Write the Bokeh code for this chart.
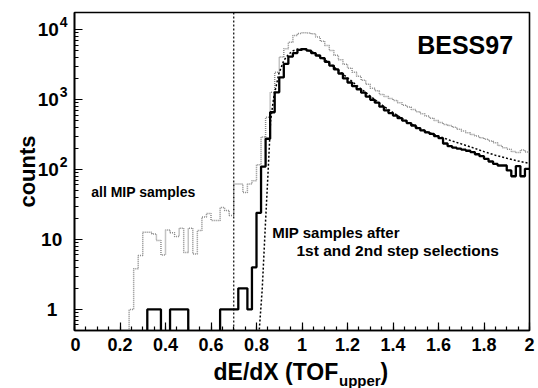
import numpy as np
from bokeh.plotting import figure
from bokeh.models import Label, Span, FixedTicker
from bokeh.layouts import row, column
from bokeh.core.properties import value
from bokeh.embed import file_html
from bokeh.resources import INLINE

# ---------------- data ----------------
bin_lo = 0.0
bin_width = 0.02

# all MIP samples (grey dotted histogram), bins of 0.02 starting at 0.00
all_mip = [
    0, 0, 0, 0, 0, 0, 0, 0, 0, 0, 0, 0,
    1, 3.8, 5.9, 12.7, 12.7, 12, 9.7, 6, 13.7, 12.5,
    11, 14.5, 6.5, 14.5, 6.2, 13.4, 21, 23.5, 18.7, 18.7,
    28.5, 26, 22, 62, 62, 47, 62, 69, 117, 290,
    558, 1265, 2450, 4050, 5300, 6600, 8200, 8800, 9000, 8950,
    8700, 7800, 6800, 5900, 5000, 4300, 3700, 3200, 2800, 2450,
    2150, 1880, 1650, 1450, 1330, 1180, 1100, 1030, 970, 900,
    830, 780, 720, 670, 625, 580, 540, 500, 470, 440,
    425, 400, 375, 355, 335, 315, 300, 285, 270, 255,
    240, 220, 205, 195, 180, 175, 190, 178,
]

# MIP samples after 1st and 2nd step selections (black solid histogram)
selected = [
    0, 0, 0, 0, 0, 0, 0, 0, 0, 0, 0, 0, 0, 0, 0, 0,
    1, 1, 1, 0, 0, 1, 1, 1, 1,
    0, 0, 0, 0, 0, 0, 0,
    1, 1, 1, 1, 2, 2, 1, 4, 24, 110,
    275, 657, 1265, 2070, 3220, 4100, 4600, 5100, 5250, 5000,
    4600, 4250, 3900, 3450, 3050, 2700, 2350, 2000, 1750, 1550,
    1400, 1250, 1100, 990, 900, 790, 700, 640, 590, 540,
    500, 460, 425, 390, 361, 340, 323, 300, 280, 235,
    215, 205, 198, 192, 185, 177, 165, 155, 142, 130,
    120, 114, 114, 97, 80, 112, 80, 102,
]

# fitted curve (dashed)
fit_x = [0.805, 0.812, 0.825, 0.84, 0.85, 0.862, 0.876, 0.898, 0.92, 0.94, 0.96,
         0.98, 1.00, 1.02, 1.05, 1.10, 1.15, 1.20, 1.25, 1.30, 1.35, 1.40, 1.45,
         1.50, 1.55, 1.60, 1.65, 1.70, 1.75, 1.80, 1.85, 1.90, 1.95, 2.00]
fit_y = [0.35, 0.5, 1.9, 18.7, 80, 500, 1080, 2330, 3600, 4400, 4950,
         5250, 5300, 5150, 4700, 3700, 2750, 2050, 1500, 1120, 840, 650, 510,
         410, 345, 300, 262, 232, 205, 180, 160, 145, 132, 122]

cut_x = 0.7

x_lo, x_hi = 0.0, 2.0
y_lo, y_hi = 0.5, 17500

xtick_vals = [0, 0.2, 0.4, 0.6, 0.8, 1.0, 1.2, 1.4, 1.6, 1.8, 2.0]
xtick_labels = ["0", "0.2", "0.4", "0.6", "0.8", "1", "1.2", "1.4", "1.6", "1.8", "2"]
ytick_vals = [1, 10, 100, 1000, 10000]
ytick_base = ["1", "10", "10", "10", "10"]
ytick_sup = ["", "", "2", "3", "4"]

# ---------------- main figure ----------------
FONT = "Liberation Sans"
H_TOP = 360
p = figure(width=468, height=H_TOP, x_range=(x_lo, x_hi), y_range=(y_lo, y_hi),
           y_axis_type="log", output_backend="svg", toolbar_location=None,
           min_border_left=4, min_border_right=9, min_border_top=12,
           min_border_bottom=30)
p.title.visible = False
p.xgrid.visible = False
p.ygrid.visible = False
p.outline_line_color = "black"
p.outline_line_width = 1.6
p.background_fill_color = "white"
p.border_fill_color = "white"

n = len(selected)
edges = bin_lo + bin_width * np.arange(n + 1)
floor_val = 0.3  # zero bins are drawn down below the frame

def step_vals(v):
    v = np.asarray(v, dtype=float)
    v = np.where(v > 0, v, floor_val)
    return np.append(v, v[-1])

p.step(edges, step_vals(all_mip), mode="after", line_color="#8a8a8a",
       line_width=1.5, line_dash="1 1")
p.step(edges, step_vals(selected), mode="after", line_color="black",
       line_width=2.3)
p.line(fit_x, fit_y, line_color="black", line_width=1.5, line_dash="2 2")
p.add_layout(Span(location=cut_x, dimension="height", line_color="black",
                  line_width=1.2, line_dash="2 2"))

# axes
xminor = list(np.round(np.arange(0, 2.0001, 0.05), 2))
p.xaxis.ticker = FixedTicker(ticks=xtick_vals, minor_ticks=xminor)
p.xaxis.major_label_overrides = {v: s for v, s in zip(xtick_vals, xtick_labels)}
yminor = [0.5, 0.6, 0.7, 0.8, 0.9]
for dec in [1, 10, 100, 1000]:
    yminor += [k * dec for k in range(2, 10)]
p.yaxis.ticker = FixedTicker(ticks=ytick_vals, minor_ticks=yminor)
p.yaxis.major_label_overrides = {v: "" for v in ytick_vals}
p.yaxis.major_label_standoff = 0

for ax in (p.xaxis[0], p.yaxis[0]):
    ax.axis_line_color = "black"
    ax.axis_line_width = 1.6
    ax.major_tick_in = 8
    ax.major_tick_out = 0
    ax.minor_tick_in = 4
    ax.minor_tick_out = 0
    ax.major_tick_line_color = "black"
    ax.minor_tick_line_color = "black"
    ax.major_tick_line_width = 1.2
    ax.minor_tick_line_width = 1.2

p.xaxis.major_label_text_font = FONT
p.xaxis.major_label_text_font_style = "bold"
p.xaxis.major_label_text_font_size = "18px"
p.xaxis.major_label_text_color = "black"
p.xaxis.major_label_standoff = 7

def lab(text, x, y, size):
    p.add_layout(Label(x=x, y=y, x_units="screen", y_units="screen", text=text,
                       text_font=FONT, text_font_style="bold", text_font_size=size,
                       text_color="black", text_baseline="middle",
                       text_align="left"))

lab("BESS97", 342.7, 286, "25px")
lab("all MIP samples", 16.7, 138.3, "14px")
lab("MIP samples after", 197.7, 98.4, "15px")
lab("1st and 2nd step selections", 222, 79.7, "15.5px")

# ---------------- left strip: y tick labels and y title ----------------
pl = figure(width=70, height=H_TOP, x_range=(0, 70), y_range=p.y_range,
            y_axis_type="log", output_backend="svg", toolbar_location=None,
            x_axis_location=None, y_axis_location=None,
            min_border_left=0, min_border_right=0, min_border_top=12,
            min_border_bottom=30)
pl.title.visible = False
pl.grid.visible = False
pl.outline_line_color = None
pl.background_fill_color = "white"
pl.border_fill_color = "white"

txt = dict(text_font=value(FONT), text_font_style="bold", text_color="black")
for v, b, s in zip(ytick_vals, ytick_base, ytick_sup):
    if s:
        pl.text(x=[58.3], y=[v], text=[b], text_align="right", text_baseline="middle",
                text_font_size="19px", **txt)
        pl.text(x=[59.3], y=[v], text=[s], text_align="left", text_baseline="middle",
                text_font_size="14px", y_offset=-7.3, **txt)
    else:
        right = 56.7 if b == "1" else 61.7
        pl.text(x=[right], y=[v], text=[b], text_align="right", text_baseline="middle",
                text_font_size="19px", **txt)

pl.text(x=[27], y=[np.sqrt(y_lo * y_hi)], text=["counts"], angle=np.pi / 2,
        text_align="center", text_baseline="middle", text_font_size="22px", **txt)

# ---------------- bottom strip: x title with subscript ----------------
pb = figure(width=538, height=28, x_range=(0, 538), y_range=(28, 0),
            output_backend="svg", toolbar_location=None,
            x_axis_location=None, y_axis_location=None, min_border=0)
pb.title.visible = False
pb.grid.visible = False
pb.outline_line_color = None
pb.background_fill_color = "white"
pb.border_fill_color = "white"
pb.text(x=[213], y=[11.8], text=["dE/dX (TOF"], text_align="left",
        text_baseline="middle", text_font_size="23px", **txt)
pb.text(x=[338.5], y=[19.8], text=["upper"], text_align="left",
        text_baseline="middle", text_font_size="15px", **txt)
pb.text(x=[380], y=[11.8], text=[")"], text_align="left",
        text_baseline="middle", text_font_size="23px", **txt)

layout = column(row(pl, p), pb)
open("out.html", "w").write(file_html(layout, INLINE))
